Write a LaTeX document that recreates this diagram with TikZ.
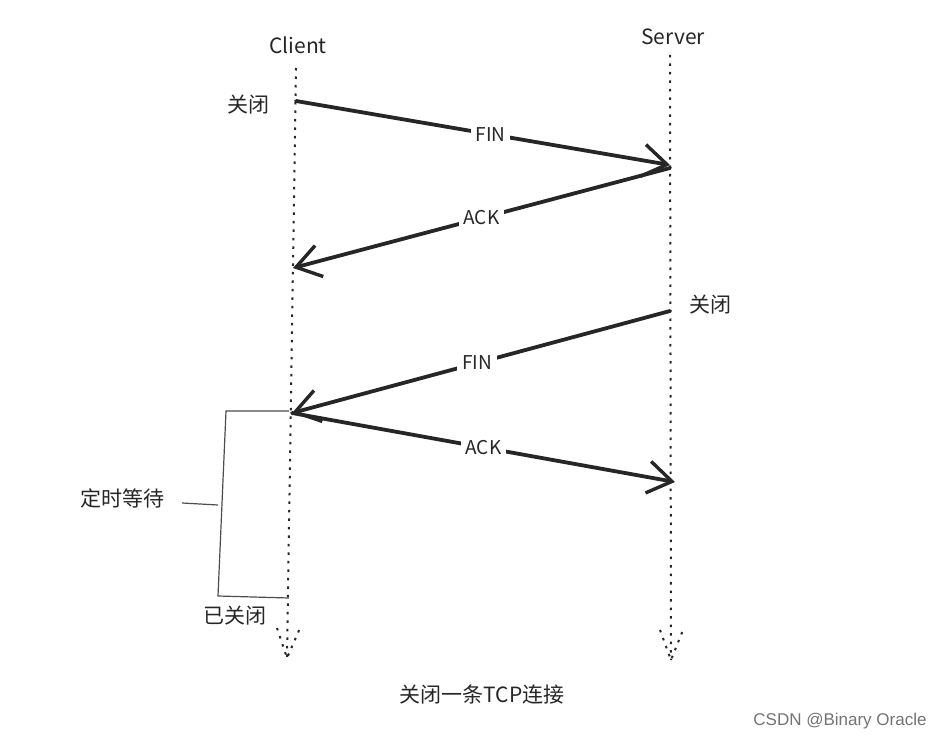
\documentclass[tikz,border=0pt]{standalone}
\usepackage{fontspec}
\setmainfont{Noto Sans CJK SC}
\newfontfamily\wmfont{Liberation Sans}
\usetikzlibrary{arrows.meta,positioning}
\begin{document}
\begin{tikzpicture}[x=1pt,y=-1pt]
                \tikzstyle{every node}+=[inner sep=1pt,text=black!85,font=\fontsize{21}{25}\selectfont]
                \tikzstyle{msg}=[line width=3.8pt,draw=black!85,line cap=round,-{Straight Barb[length=24pt,width=32pt,line width=3.4pt]}]
                \tikzstyle{life}=[line width=2pt,draw=black!85,dash pattern=on 2.5pt off 6pt]
                \tikzstyle{lbl}=[fill=white,inner sep=5pt,font=\fontsize{19}{23}\selectfont]
                \tikzstyle{brace}=[line width=1.2pt,draw=black!70]
                \useasboundingbox (0,0) rectangle (946,741);
                \node (client) at (298,45) {Client};
                \node (server) at (673,37) {Server};
                \coordinate (c0) at (296,68);
                \coordinate (c1) at (287,658);
                \coordinate (s0) at (670,55);
                \coordinate (s1) at (671,660);
                \draw [life] (c0) -- (c1);
                \draw [life] (s0) -- (s1);
                \draw [life] (277,628) -- (c1) -- (300,628);
                \draw [life] (660,630) -- (s1) -- (683,630);
                \coordinate (cfin) at (296,101);
                \coordinate (sfin) at (670,165);
                \coordinate (sack) at (670,168);
                \coordinate (cack) at (293,268);
                \coordinate (sfin2) at (670,311);
                \coordinate (cwait) at (292,413);
                \coordinate (sack2) at (675,482);
                \draw [msg] (cfin) -- node [lbl,pos=0.52] (fin1) {FIN} (sfin);
                \draw [msg] (sack) -- node [lbl] (ack1) {ACK} (cack);
                \draw [msg] (sfin2) -- node [lbl,pos=0.51] (fin2) {FIN} (cwait);
                \draw [msg] (cwait) -- node [lbl] (ack2) {ACK} (sack2);
                \node (cclose) at (248,105) {关闭};
                \node (sclose) at (710,305) {关闭};
                \coordinate (wtop) at (289,411);
                \coordinate (wbot) at (289,598);
                \draw [brace] (wtop) -- (226,411) -- (218,596) -- (wbot);
                \draw [brace] (182,503) -- (218,505);
                \node (wait) at (122,498) {定时等待};
                \node (closed) at (235,616) {已关闭};
                \node (title) at (482,695) {关闭一条TCP连接};
                \node [text=black!55,font=\wmfont\fontsize{17}{20}\selectfont] (mark) at (840,721) {CSDN @Binary Oracle};
            \end{tikzpicture}
\end{document}
